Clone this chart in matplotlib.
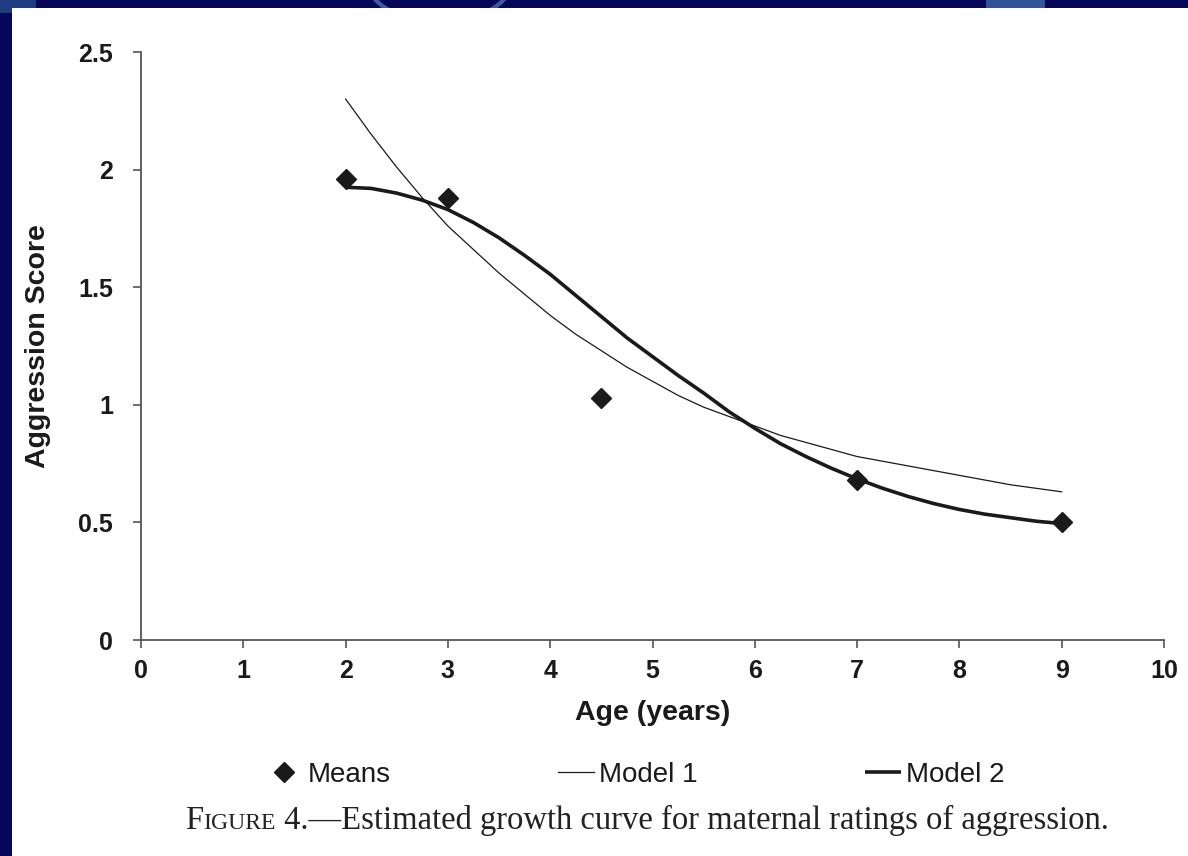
import numpy as np
import matplotlib
matplotlib.use("Agg")
import matplotlib.pyplot as plt
from matplotlib.patches import Rectangle, Ellipse
from matplotlib import font_manager

# observed means by age
mean_age = [2, 3, 4.5, 7, 9]
mean_score = [1.96, 1.88, 1.03, 0.68, 0.50]

# fitted growth curves, read at quarter-year steps from 2 to 9
curve_age = [2.0, 2.25, 2.5, 2.75, 3.0, 3.25, 3.5, 3.75, 4.0, 4.25, 4.5, 4.75,
             5.0, 5.25, 5.5, 5.75, 6.0, 6.25, 6.5, 6.75, 7.0, 7.25, 7.5, 7.75,
             8.0, 8.25, 8.5, 8.75, 9.0]
model1 = [2.30, 2.15, 2.01, 1.88, 1.76, 1.66, 1.56, 1.47, 1.38, 1.30, 1.23, 1.16,
          1.10, 1.04, 0.99, 0.95, 0.91, 0.87, 0.84, 0.81, 0.78, 0.76, 0.74, 0.72,
          0.70, 0.68, 0.66, 0.645, 0.63]
model2 = [1.925, 1.92, 1.90, 1.87, 1.83, 1.775, 1.71, 1.635, 1.555, 1.465, 1.375, 1.285,
          1.205, 1.125, 1.05, 0.97, 0.90, 0.835, 0.78, 0.73, 0.685, 0.645, 0.61, 0.58,
          0.555, 0.535, 0.52, 0.505, 0.495]

x_ticks = list(range(0, 11))
y_ticks = [0, 0.5, 1, 1.5, 2, 2.5]
y_ticklabels = ["0", "0.5", "1", "1.5", "2", "2.5"]

names = {f.name for f in font_manager.fontManager.ttflist}
narrow = "Liberation Sans Narrow" if "Liberation Sans Narrow" in names else "Liberation Sans"

ink = "#1a1a1a"
navy = "#07075a"

fig = plt.figure(figsize=(11.88, 8.56), dpi=100, facecolor=navy)

# slide decorations along the top edge
fig.patches.append(Ellipse((0.37, 1.02), 0.12, 0.09, transform=fig.transFigure,
                           facecolor="none", edgecolor="#3d5a9e", lw=3, zorder=-3))
fig.patches.append(Rectangle((0.83, 0.985), 0.05, 0.02, transform=fig.transFigure,
                             facecolor="#2f5596", edgecolor="none", zorder=-3))
fig.patches.append(Rectangle((0.0, 0.985), 0.03, 0.02, transform=fig.transFigure,
                             facecolor="#1e3d80", edgecolor="none", zorder=-3))
# white page
fig.patches.append(Rectangle((12 / 1188, 0), 1, 848 / 856, transform=fig.transFigure,
                             facecolor="white", edgecolor="none", zorder=-2))

ax = fig.add_axes([141 / 1188, 1 - 640 / 856, 1023 / 1188, 588 / 856])
ax.set_facecolor("none")

ax.plot(curve_age, model1, color=ink, lw=0.9, label="Model 1")
ax.plot(curve_age, model2, color=ink, lw=2.6, label="Model 2", solid_capstyle="butt")
ax.plot(mean_age, mean_score, ls="none", marker="D", ms=10, color=ink, label="Means")

ax.set_xlim(0, 10)
ax.set_ylim(0, 2.5)
ax.set_xticks(x_ticks)
ax.set_yticks(y_ticks)
ax.set_yticklabels(y_ticklabels)

for side in ["top", "right"]:
    ax.spines[side].set_visible(False)
for side in ["left", "bottom"]:
    ax.spines[side].set_color("#555555")
    ax.spines[side].set_linewidth(1.3)
ax.tick_params(direction="out", length=6, width=1.2, color="#555555",
               labelsize=18, labelcolor=ink)
ax.tick_params(axis="x", pad=8)
ax.tick_params(axis="y", pad=14)
for lab in ax.get_xticklabels() + ax.get_yticklabels():
    lab.set_fontfamily("Liberation Sans")
    lab.set_fontweight("bold")

ax.set_xlabel("Age (years)", fontsize=20.5, fontweight="bold", family=narrow, color=ink, labelpad=12)
ax.set_ylabel("Aggression Score", fontsize=20.5, fontweight="bold", family=narrow, color=ink, labelpad=20)

handles, labels = ax.get_legend_handles_labels()
order = [2, 0, 1]
leg = fig.legend([handles[i] for i in order], [labels[i] for i in order],
                 loc="center", bbox_to_anchor=(0.535, 1 - 775 / 856), ncol=3,
                 frameon=False, handlelength=1.3, handletextpad=0.2,
                 columnspacing=6.0, prop={"family": narrow, "size": 20})
for t in leg.get_texts():
    t.set_color(ink)

# caption with small-caps "Figure"
fig.canvas.draw()
r = fig.canvas.get_renderer()
cap_y = 1 - 829 / 856
x0 = 185 / 1188
parts = [("F", 23.5), ("IGURE", 17), (" 4.\u2014Estimated growth curve for maternal ratings of aggression.", 23.5)]
for txt, size in parts:
    t = fig.text(x0, cap_y, txt, fontsize=size, family="Liberation Serif",
                 color="#222222", ha="left", va="baseline")
    bb = t.get_window_extent(renderer=r)
    x0 = bb.x1 / fig.bbox.width

fig.savefig("out.png", dpi=100, facecolor=navy)
